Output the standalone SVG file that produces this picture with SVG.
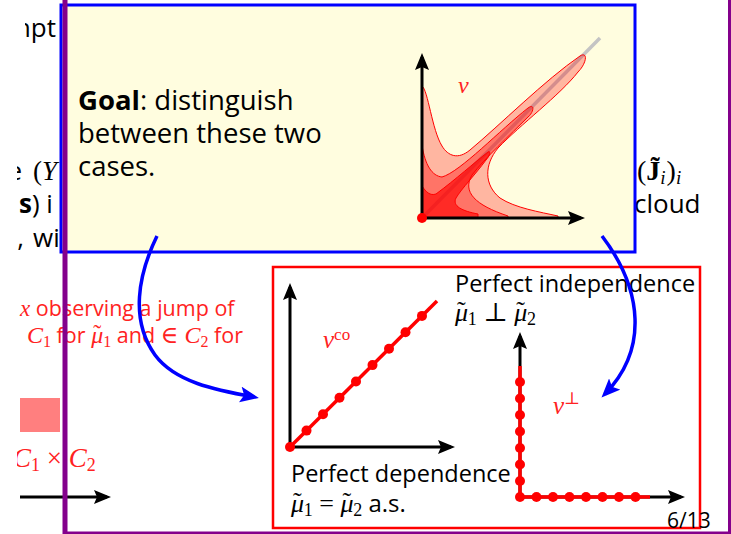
<svg xmlns="http://www.w3.org/2000/svg" width="731" height="534" viewBox="0 0 731 534">
<defs>
<style>
.sans{font-family:"Open Sans","Noto Sans",sans-serif;}
.ser{font-family:"Liberation Serif","DejaVu Serif",serif;font-style:italic;}
.rm{font-family:"Liberation Serif","DejaVu Serif",serif;font-style:normal;}
.red{fill:#FF2222;}
.ax{stroke:#000;stroke-width:3;fill:none;}
.rl{stroke:#FF0000;stroke-width:3.5;fill:none;}
.dot{fill:#FF0000;}
.barr{stroke:#0000FF;stroke-width:3.5;fill:none;}
.pur{stroke:#84008C;fill:none;}
</style>
<marker id="ka" markerUnits="userSpaceOnUse" markerWidth="18" markerHeight="14" refX="13" refY="7" orient="auto">
<path d="M0,0 L17,7 L0,14 L3,7 Z" fill="#000"/>
</marker>
<marker id="ba" markerUnits="userSpaceOnUse" markerWidth="20" markerHeight="16" refX="14" refY="8" orient="auto">
<path d="M0,0 L19,8 L0,16 L4,8 Z" fill="#0000FF"/>
</marker>
<clipPath id="lc"><rect x="17" y="0" width="714" height="534"/></clipPath>
<clipPath id="lc2"><rect x="25" y="0" width="706" height="534"/></clipPath>
</defs>
<rect width="731" height="534" fill="#fff"/>

<g id="background-left" clip-path="url(#lc)">
<text class="sans" x="56" y="37" font-size="26" text-anchor="end" clip-path="url(#lc2)">mpt</text>
<text class="sans" x="22" y="180" font-size="26" text-anchor="end">e</text>
<text class="rm" x="33" y="180" font-size="27">(<tspan class="ser">Y</tspan></text>
<text class="sans" x="19" y="213" font-size="26"><tspan font-weight="bold">s</tspan>) i</text>
<text class="sans" x="24" y="247" font-size="26" text-anchor="end">,</text>
<text class="sans" x="33" y="247" font-size="26">wi</text>
<text class="red" y="316" font-size="21.5"><tspan x="20" class="ser" font-size="23">x</tspan><tspan class="sans"> observing a jump of</tspan></text>
<text class="red" x="27" y="343" font-size="21.5"><tspan class="ser" font-size="24">C</tspan><tspan class="rm" font-size="16" dy="4">1</tspan><tspan class="sans" dy="-4"> for </tspan><tspan class="ser" font-size="24">μ</tspan><tspan class="rm" font-size="24" dx="-10" dy="-2">˜</tspan><tspan class="rm" font-size="16" dx="2" dy="6">1</tspan><tspan class="sans" dy="-4"> and </tspan><tspan class="rm" font-size="24">∈ </tspan><tspan class="ser" font-size="24">C</tspan><tspan class="rm" font-size="16" dy="4">2</tspan><tspan class="sans" dy="-4"> for</tspan></text>
<rect x="20" y="398" width="40" height="34" fill="#FF7F7F"/>
<text class="red" x="13" y="467" font-size="27"><tspan class="ser">C</tspan><tspan class="rm" font-size="18" dy="4">1</tspan><tspan class="rm" dy="-4"> × </tspan><tspan class="ser">C</tspan><tspan class="rm" font-size="18" dy="4">2</tspan></text>
</g>
<g id="left-arrow">
<line x1="20" y1="497" x2="107" y2="497" class="ax" marker-end="url(#ka)"/>
</g>
<g id="background-right">
<text class="rm" x="637" y="180" font-size="28">(<tspan font-weight="bold">J̃</tspan><tspan class="ser" font-size="19" dy="4">i</tspan><tspan dx="1" dy="-4">)</tspan><tspan class="ser" font-size="19" dy="4">i</tspan></text>
<text class="sans" x="634" y="213" font-size="26">cloud</text>
</g>

<g id="goal-box">
<rect x="61" y="5" width="574" height="247" fill="#FFFDDF" stroke="#0000FF" stroke-width="3"/>
<text class="sans" x="78" y="110" font-size="27.5"><tspan font-weight="bold">Goal</tspan>: distinguish</text>
<text class="sans" x="78" y="143" font-size="27.5">between these two</text>
<text class="sans" x="78" y="176" font-size="27.5">cases.</text>
<line x1="422" y1="218" x2="600" y2="38" stroke="#C4C4C4" stroke-width="3.5"/>
<path d="M422 218 L422 86 C428 90,432 130,442 146 C448 156,458 160,470 150 C500 125,545 80,580 56 C588 51,587 63,578 72 C560 95,520 125,498 148 C484 165,484 185,500 198 C515 208,540 212,558 216 L558 218 Z" fill="#FF0000" fill-opacity="0.28" stroke="#FF0000" stroke-width="1"/>
<path d="M422 218 L422 145 C425 165,432 176,442 177 C460 172,500 130,528 108 C535 103,534 112,528 117 C510 135,485 158,472 175 C462 192,475 205,508 216 L508 218 Z" fill="#FF0000" fill-opacity="0.36" stroke="#FF0000" stroke-width="1"/>
<path d="M422 218 L422 186 C426 192,430 196,436 194 C455 180,475 162,488 152 C491 150,490 156,486 160 C475 175,462 188,456 198 C452 206,462 211,478 214 L478 218 Z" fill="#FF0000" fill-opacity="0.63" stroke="#FF0000" stroke-width="1"/>
<line x1="422" y1="218" x2="422" y2="57" class="ax" marker-end="url(#ka)"/>
<line x1="422" y1="218" x2="581" y2="218" class="ax" marker-end="url(#ka)"/>
<circle cx="422" cy="218" r="5" class="dot"/>
<text class="ser red" x="458" y="93" font-size="24">ν</text>
</g>

<g id="cases-box">
<rect x="273" y="267" width="427" height="261" fill="#fff" stroke="#FF0000" stroke-width="2.5"/>
</g>
<g id="dependence-plot">
<line x1="290" y1="447" x2="290" y2="287" class="ax" marker-end="url(#ka)"/>
<line x1="290" y1="447" x2="451" y2="447" class="ax" marker-end="url(#ka)"/>
<line x1="290" y1="447" x2="437" y2="301" class="rl"/>
<g class="dot">
<circle cx="290" cy="447" r="5"/><circle cx="306.5" cy="430.6" r="5"/><circle cx="323" cy="414.2" r="5"/><circle cx="339.5" cy="397.8" r="5"/><circle cx="356" cy="381.5" r="5"/><circle cx="372.5" cy="365.1" r="5"/><circle cx="389" cy="348.7" r="5"/><circle cx="405.5" cy="332.3" r="5"/><circle cx="422" cy="315.9" r="5"/>
</g>
<text class="red" x="323" y="348"><tspan class="ser" font-size="25">ν</tspan><tspan class="rm" font-size="17" dy="-8">co</tspan></text>
<text class="sans" x="291" y="482" font-size="23.5">Perfect dependence</text>
<text x="291" y="512"><tspan class="ser" font-size="26">μ</tspan><tspan class="rm" font-size="26" dx="-11" dy="-2">˜</tspan><tspan class="rm" font-size="18" dx="2" dy="6">1</tspan><tspan class="rm" font-size="26" dy="-4"> = </tspan><tspan class="ser" font-size="26">μ</tspan><tspan class="rm" font-size="26" dx="-11" dy="-2">˜</tspan><tspan class="rm" font-size="18" dx="2" dy="6">2</tspan><tspan class="sans" font-size="24" dy="-4"> a.s.</tspan></text>
</g>
<g id="independence-plot">
<line x1="520" y1="497" x2="520" y2="336" class="ax" marker-end="url(#ka)"/>
<line x1="520" y1="497" x2="681" y2="497" class="ax" marker-end="url(#ka)"/>
<polyline points="520,366 520,497 650,497" class="rl"/>
<g class="dot">
<circle cx="520" cy="382" r="5"/><circle cx="520" cy="398.5" r="5"/><circle cx="520" cy="415" r="5"/><circle cx="520" cy="431.5" r="5"/><circle cx="520" cy="448" r="5"/><circle cx="520" cy="464.5" r="5"/><circle cx="520" cy="481" r="5"/><circle cx="520" cy="497" r="5"/>
<circle cx="536.5" cy="497" r="5"/><circle cx="553" cy="497" r="5"/><circle cx="569.5" cy="497" r="5"/><circle cx="586" cy="497" r="5"/><circle cx="602.5" cy="497" r="5"/><circle cx="619" cy="497" r="5"/><circle cx="635.5" cy="497" r="5"/>
</g>
<text class="red" x="553" y="414"><tspan class="ser" font-size="25">ν</tspan><tspan class="rm" font-size="17" dy="-10">⊥</tspan></text>
<text class="sans" x="455" y="292" font-size="23.5">Perfect independence</text>
<text x="455" y="321"><tspan class="ser" font-size="26">μ</tspan><tspan class="rm" font-size="26" dx="-11" dy="-2">˜</tspan><tspan class="rm" font-size="18" dx="2" dy="6">1</tspan><tspan class="rm" font-size="26" dy="-4"> ⊥ </tspan><tspan class="ser" font-size="26">μ</tspan><tspan class="rm" font-size="26" dx="-11" dy="-2">˜</tspan><tspan class="rm" font-size="18" dx="2" dy="6">2</tspan></text>
</g>
<g id="connectors">
<path d="M157 236 C138 275,130 320,155 355 C175 382,215 390,254 397" class="barr" marker-end="url(#ba)"/>
<path d="M602 236 C643 290,648 350,605 394" class="barr" marker-end="url(#ba)"/>
</g>
<text id="page" class="sans" x="667" y="528" font-size="21">6/13</text>
<g id="frame">
<line x1="65" y1="0" x2="65" y2="534" class="pur" stroke-width="5"/>
<line x1="729.5" y1="0" x2="729.5" y2="534" class="pur" stroke-width="3"/>
<line x1="65" y1="533" x2="731" y2="533" class="pur" stroke-width="3"/>
</g>
</svg>
